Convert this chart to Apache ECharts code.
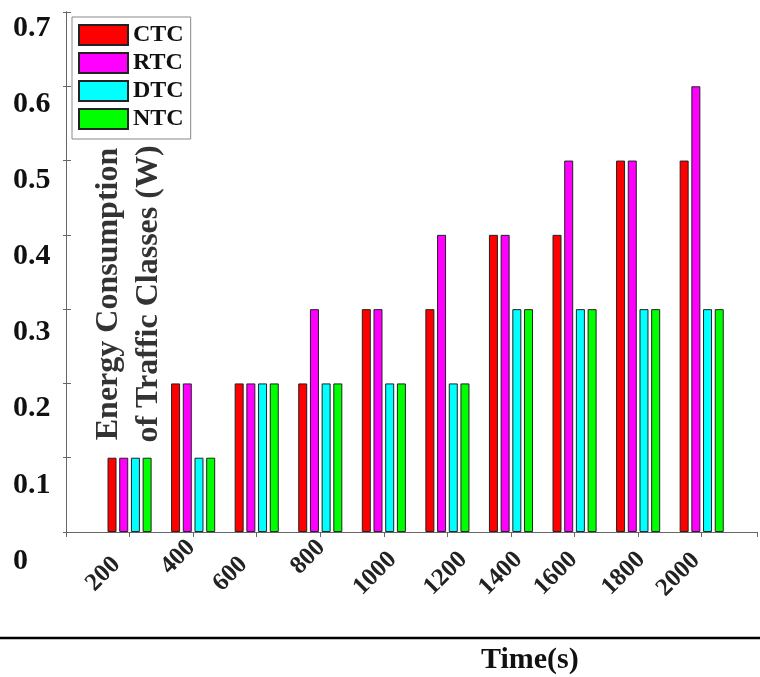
<!DOCTYPE html>
<html>
<head>
<meta charset="utf-8">
<script src="https://cdn.jsdelivr.net/npm/echarts@6/dist/echarts.min.js"></script>
<style>html,body{margin:0;padding:0;background:#fff;}#c{width:760px;height:677px;}</style>
</head>
<body>
<div id="c"></div>
<script>
const categories = ['200','400','600','800','1000','1200','1400','1600','1800','2000'];
const ctc = [0.1,0.2,0.2,0.2,0.3,0.3,0.4,0.4,0.5,0.5];
const rtc = [0.1,0.2,0.2,0.3,0.3,0.4,0.4,0.5,0.5,0.6];
const dtc = [0.1,0.1,0.2,0.2,0.2,0.2,0.3,0.3,0.3,0.3];
const ntc = [0.1,0.1,0.2,0.2,0.2,0.2,0.3,0.3,0.3,0.3];
const seriesNames = ['CTC','RTC','DTC','NTC'];
const seriesColors = ['#ff0000','#ff00ff','#00ffff','#00ff00'];
const yMin = 0, yMax = 0.7, yStep = 0.1;
const xMin = 0, xMax = 10.87;

// layout only: per-label padding [top, right] reproducing the uneven label placement of the original
const labelNudge = [[11,24],[3,4],[11,24],[7,2],[35,5],[45,0],[33,6],[21,12],[27,9],[16,16]];

const FONT = "'Liberation Serif','Times New Roman',serif";
const chart = echarts.init(document.getElementById('c'), null, {renderer:'canvas'});
const values = [ctc, rtc, dtc, ntc];
const series = seriesNames.map((n, k) => ({
  name: n, type: 'bar', xAxisIndex: 0, yAxisIndex: 0,
  barWidth: 9, barGap: '30%',
  itemStyle: {color: seriesColors[k], borderColor: '#222', borderWidth: 1},
  emphasis: {disabled: true},
  data: categories.map((c, i) => [i + 1, values[k][i]])
}));
const rich = {};
labelNudge.forEach((p, i) => {
  rich['l' + i] = {fontFamily: FONT, fontWeight: 'bold', fontSize: 25, color: '#222', padding: [p[0], p[1], 0, 0]};
});
const axisLineStyle = {color: '#666', width: 1};
chart.setOption({
  animation: false,
  backgroundColor: '#fff',
  grid: [
    {left: 66, right: 3, top: 12, bottom: 145},
    {left: 66, right: 3, top: 28, bottom: 116}
  ],
  title: {text: 'Time(s)', left: 476, top: 640,
    textStyle: {fontFamily: FONT, fontWeight: 'bold', fontSize: 30, color: '#111'}},
  legend: {
    left: 72, top: 17, orient: 'vertical', icon: 'rect',
    itemWidth: 49, itemHeight: 20, itemGap: 4,
    padding: [6, 7, 8, 6], borderColor: '#888', borderWidth: 1, backgroundColor: '#fff',
    textStyle: {fontFamily: FONT, fontWeight: 'bold', fontSize: 24, color: '#111', lineHeight: 20}
  },
  xAxis: [
    {type: 'value', gridIndex: 0, position: 'bottom', min: xMin, max: xMax, interval: 1,
     axisLine: {show: true, lineStyle: axisLineStyle}, axisTick: {show: false}, splitLine: {show: false},
     axisLabel: {rotate: 45, margin: 8, showMaxLabel: false, showMinLabel: false,
       fontFamily: FONT, fontWeight: 'bold', fontSize: 25, color: '#222', rich: rich,
       formatter: v => (Number.isInteger(v) && v >= 1 && v <= categories.length) ? ('{l' + (v - 1) + '|' + categories[v - 1] + '}') : ''}},
    {type: 'value', gridIndex: 0, position: 'top', min: xMin, max: xMax, interval: 1,
     axisLine: {show: true, lineStyle: axisLineStyle}, axisTick: {show: true, inside: true, length: 5, lineStyle: axisLineStyle},
     axisLabel: {show: false}, splitLine: {show: false}},
    {type: 'value', gridIndex: 1, show: false, min: 0, max: 1}
  ],
  yAxis: [
    {type: 'value', gridIndex: 0, position: 'left', min: yMin, max: yMax, interval: yStep,
     axisLine: {show: true, lineStyle: axisLineStyle}, axisTick: {show: true, inside: true, length: 5, lineStyle: axisLineStyle},
     axisLabel: {show: false}, splitLine: {show: false},
     name: 'Energy Consumption\nof Traffic Classes (W)', nameLocation: 'middle', nameRotate: 90, nameGap: -63,
     nameTextStyle: {fontFamily: FONT, fontWeight: 'bold', fontSize: 32, color: '#333', lineHeight: 40,
       align: 'center', verticalAlign: 'middle', padding: [0, 44, 0, 0]}},
    {type: 'value', gridIndex: 0, position: 'right', min: yMin, max: yMax, interval: yStep,
     axisLine: {show: true, lineStyle: axisLineStyle}, axisTick: {show: true, inside: true, length: 3, lineStyle: axisLineStyle},
     axisLabel: {show: false}, splitLine: {show: false}},
    {type: 'value', gridIndex: 1, position: 'left', min: yMin, max: yMax, interval: yStep,
     axisLine: {show: false}, axisTick: {show: false}, splitLine: {show: false},
     axisLabel: {show: true, align: 'left', margin: 53, fontFamily: FONT, fontWeight: 'bold', fontSize: 30, color: '#111',
       formatter: v => String(Math.round(v * 10) / 10)}}
  ],
  graphic: [
    {type: 'line', shape: {x1: 0, y1: 638, x2: 760, y2: 638}, style: {stroke: '#000', lineWidth: 2.5}, z: 10}
  ],
  series: series
});
</script>
</body>
</html>
